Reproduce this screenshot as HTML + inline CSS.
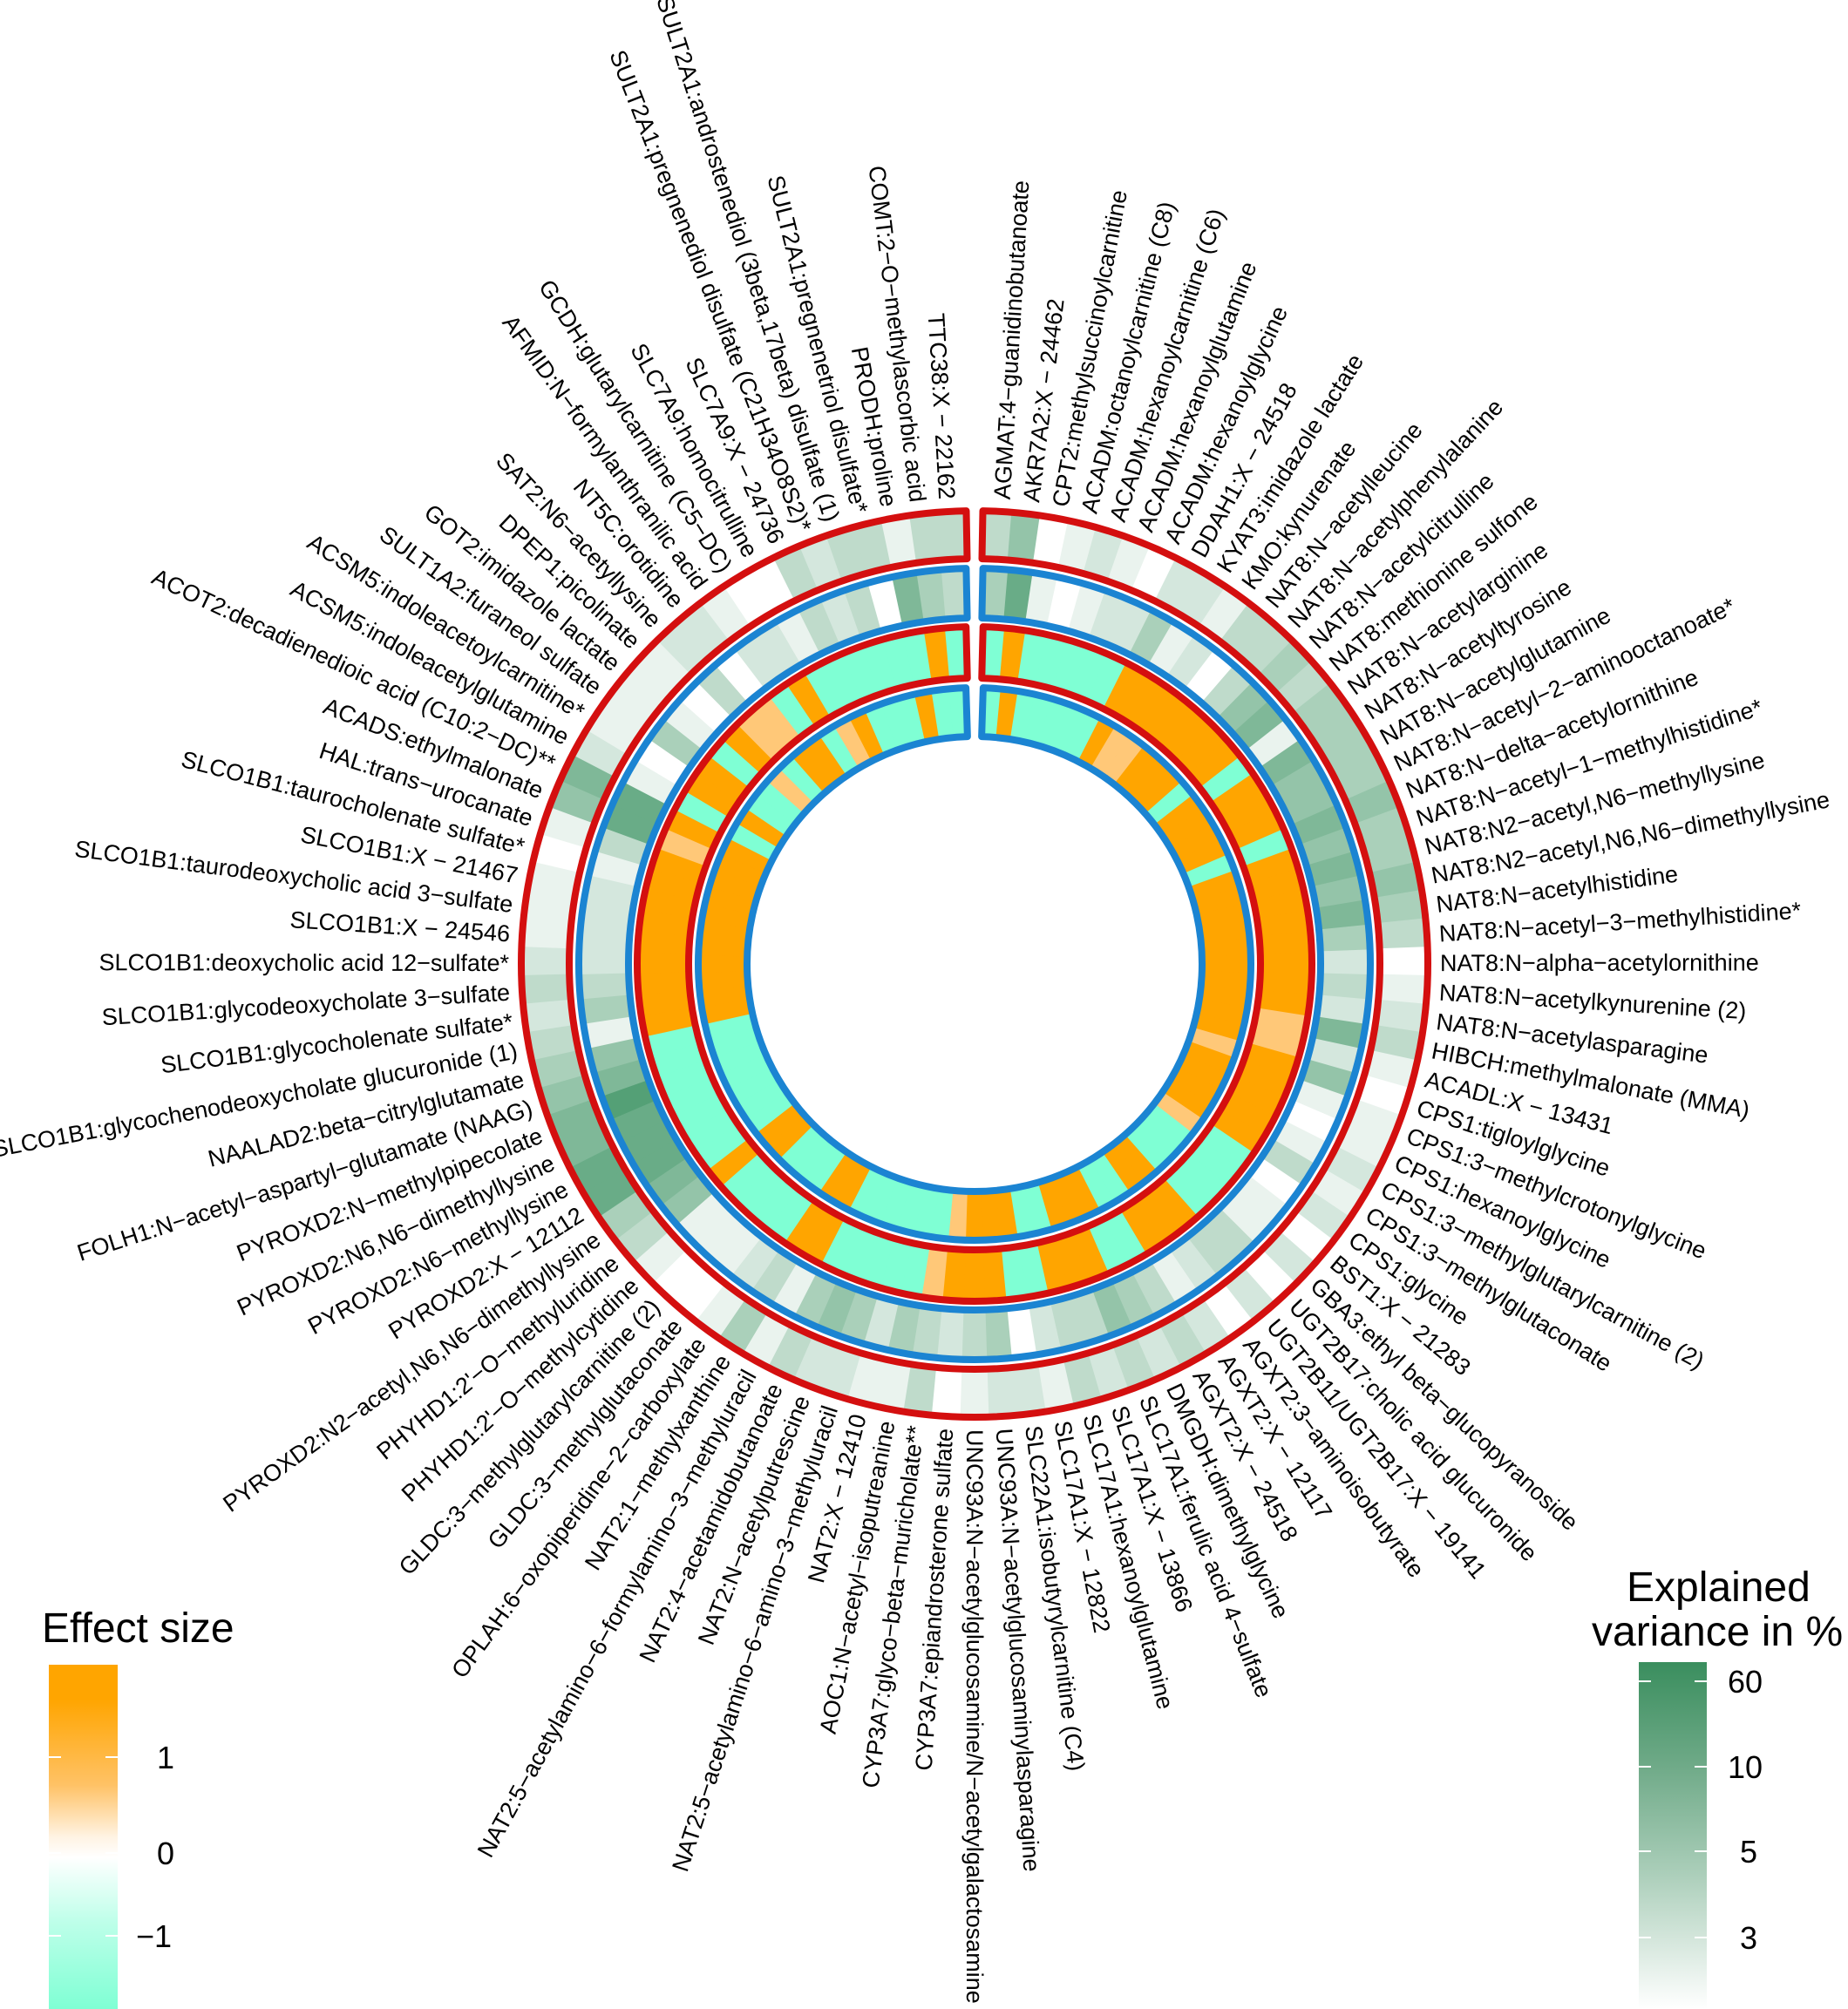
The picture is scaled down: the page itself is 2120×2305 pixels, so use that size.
<!DOCTYPE html>
<html><head><meta charset="utf-8">
<style>
html,body{margin:0;padding:0;background:#fff;}
svg{display:block;}
text{font-family:"Liberation Sans",Arial,sans-serif;fill:#000;}
</style></head>
<body>
<svg id="s" width="2120" height="2305" viewBox="0 0 2120 2305" xmlns="http://www.w3.org/2000/svg">
<defs>
<linearGradient id="ge" x1="0" y1="0" x2="0" y2="1">
<stop offset="0" stop-color="#FFA500"/>
<stop offset="0.1" stop-color="#FFA500"/>
<stop offset="0.35" stop-color="#FFC266"/>
<stop offset="0.5" stop-color="#FFF3E3"/>
<stop offset="0.56" stop-color="#FFFFFF"/>
<stop offset="0.75" stop-color="#BDFFE9"/>
<stop offset="1" stop-color="#7FFFD4"/>
</linearGradient>
<linearGradient id="gg" x1="0" y1="0" x2="0" y2="1">
<stop offset="0" stop-color="#3A8E5E"/>
<stop offset="0.3" stop-color="#6FAA88"/>
<stop offset="0.6" stop-color="#A9CDB8"/>
<stop offset="1" stop-color="#FFFFFF"/>
</linearGradient>
</defs>
<g id="cells"></g>
<g id="borders"></g>
<g id="labels" font-size="27">
<text>AGMAT:4−guanidinobutanoate</text>
<text>AKR7A2:X − 24462</text>
<text>CPT2:methylsuccinoylcarnitine</text>
<text>ACADM:octanoylcarnitine (C8)</text>
<text>ACADM:hexanoylcarnitine (C6)</text>
<text>ACADM:hexanoylglutamine</text>
<text>ACADM:hexanoylglycine</text>
<text>DDAH1:X − 24518</text>
<text>KYAT3:imidazole lactate</text>
<text>KMO:kynurenate</text>
<text>NAT8:N−acetylleucine</text>
<text>NAT8:N−acetylphenylalanine</text>
<text>NAT8:N−acetylcitrulline</text>
<text>NAT8:methionine sulfone</text>
<text>NAT8:N−acetylarginine</text>
<text>NAT8:N−acetyltyrosine</text>
<text>NAT8:N−acetylglutamine</text>
<text>NAT8:N−acetyl−2−aminooctanoate*</text>
<text>NAT8:N−delta−acetylornithine</text>
<text>NAT8:N−acetyl−1−methylhistidine*</text>
<text>NAT8:N2−acetyl,N6−methyllysine</text>
<text>NAT8:N2−acetyl,N6,N6−dimethyllysine</text>
<text>NAT8:N−acetylhistidine</text>
<text>NAT8:N−acetyl−3−methylhistidine*</text>
<text>NAT8:N−alpha−acetylornithine</text>
<text>NAT8:N−acetylkynurenine (2)</text>
<text>NAT8:N−acetylasparagine</text>
<text>HIBCH:methylmalonate (MMA)</text>
<text>ACADL:X − 13431</text>
<text>CPS1:tigloylglycine</text>
<text>CPS1:3−methylcrotonylglycine</text>
<text>CPS1:hexanoylglycine</text>
<text>CPS1:3−methylglutarylcarnitine (2)</text>
<text>CPS1:3−methylglutaconate</text>
<text>CPS1:glycine</text>
<text>BST1:X − 21283</text>
<text>GBA3:ethyl beta−glucopyranoside</text>
<text>UGT2B17:cholic acid glucuronide</text>
<text>UGT2B11/UGT2B17:X − 19141</text>
<text>AGXT2:3−aminoisobutyrate</text>
<text>AGXT2:X − 12117</text>
<text>AGXT2:X − 24518</text>
<text>DMGDH:dimethylglycine</text>
<text>SLC17A1:ferulic acid 4−sulfate</text>
<text>SLC17A1:X − 13866</text>
<text>SLC17A1:hexanoylglutamine</text>
<text>SLC17A1:X − 12822</text>
<text>SLC22A1:isobutyrylcarnitine (C4)</text>
<text>UNC93A:N−acetylglucosaminylasparagine</text>
<text>UNC93A:N−acetylglucosamine/N−acetylgalactosamine</text>
<text>CYP3A7:epiandrosterone sulfate</text>
<text>CYP3A7:glyco−beta−muricholate**</text>
<text>AOC1:N−acetyl−isoputreanine</text>
<text>NAT2:X − 12410</text>
<text>NAT2:5−acetylamino−6−amino−3−methyluracil</text>
<text>NAT2:N−acetylputrescine</text>
<text>NAT2:4−acetamidobutanoate</text>
<text>NAT2:5−acetylamino−6−formylamino−3−methyluracil</text>
<text>NAT2:1−methylxanthine</text>
<text>OPLAH:6−oxopiperidine−2−carboxylate</text>
<text>GLDC:3−methylglutaconate</text>
<text>GLDC:3−methylglutarylcarnitine (2)</text>
<text>PHYHD1:2'−O−methylcytidine</text>
<text>PHYHD1:2'−O−methyluridine</text>
<text>PYROXD2:N2−acetyl,N6,N6−dimethyllysine</text>
<text>PYROXD2:X − 12112</text>
<text>PYROXD2:N6−methyllysine</text>
<text>PYROXD2:N6,N6−dimethyllysine</text>
<text>PYROXD2:N−methylpipecolate</text>
<text>FOLH1:N−acetyl−aspartyl−glutamate (NAAG)</text>
<text>NAALAD2:beta−citrylglutamate</text>
<text>SLCO1B1:glycochenodeoxycholate glucuronide (1)</text>
<text>SLCO1B1:glycocholenate sulfate*</text>
<text>SLCO1B1:glycodeoxycholate 3−sulfate</text>
<text>SLCO1B1:deoxycholic acid 12−sulfate*</text>
<text>SLCO1B1:X − 24546</text>
<text>SLCO1B1:taurodeoxycholic acid 3−sulfate</text>
<text>SLCO1B1:X − 21467</text>
<text>SLCO1B1:taurocholenate sulfate*</text>
<text>HAL:trans−urocanate</text>
<text>ACADS:ethylmalonate</text>
<text>ACOT2:decadienedioic acid (C10:2−DC)**</text>
<text>ACSM5:indoleacetylglutamine</text>
<text>ACSM5:indoleacetoylcarnitine*</text>
<text>SULT1A2:furaneol sulfate</text>
<text>GOT2:imidazole lactate</text>
<text>DPEP1:picolinate</text>
<text>SAT2:N6−acetyllysine</text>
<text>NT5C:orotidine</text>
<text>AFMID:N−formylanthranilic acid</text>
<text>GCDH:glutarylcarnitine (C5−DC)</text>
<text>SLC7A9:homocitrulline</text>
<text>SLC7A9:X − 24736</text>
<text>SULT2A1:pregnenediol disulfate (C21H34O8S2)*</text>
<text>SULT2A1:androstenediol (3beta,17beta) disulfate (1)</text>
<text>SULT2A1:pregnenetriol disulfate*</text>
<text>PRODH:proline</text>
<text>COMT:2−O−methylascorbic acid</text>
<text>TTC38:X − 22162</text>
</g>
<!-- Effect size legend -->
<text x="48" y="1884" font-size="48">Effect size</text>
<rect x="56" y="1910" width="79" height="395" fill="url(#ge)"/>
<g stroke="#fff" stroke-width="2">
<line x1="56" y1="2016" x2="70" y2="2016"/><line x1="121" y1="2016" x2="135" y2="2016"/>
<line x1="56" y1="2126" x2="70" y2="2126"/><line x1="121" y1="2126" x2="135" y2="2126"/>
<line x1="56" y1="2221" x2="70" y2="2221"/><line x1="121" y1="2221" x2="135" y2="2221"/>
</g>
<text x="180" y="2029" font-size="36">1</text>
<text x="180" y="2139" font-size="36">0</text>
<text x="156" y="2234" font-size="36">−1</text>
<!-- Explained variance legend -->
<text x="1866" y="1837" font-size="48">Explained</text>
<text x="1826" y="1888" font-size="48">variance in %</text>
<rect x="1880" y="1907" width="78" height="398" fill="url(#gg)"/>
<g stroke="#fff" stroke-width="2">
<line x1="1880" y1="1929" x2="1894" y2="1929"/><line x1="1944" y1="1929" x2="1958" y2="1929"/>
<line x1="1880" y1="2027" x2="1894" y2="2027"/><line x1="1944" y1="2027" x2="1958" y2="2027"/>
<line x1="1880" y1="2124" x2="1894" y2="2124"/><line x1="1944" y1="2124" x2="1958" y2="2124"/>
<line x1="1880" y1="2223" x2="1894" y2="2223"/><line x1="1944" y1="2223" x2="1958" y2="2223"/>
</g>
<text x="1982" y="1942" font-size="36">60</text>
<text x="1982" y="2040" font-size="36">10</text>
<text x="1996" y="2137" font-size="36">5</text>
<text x="1996" y="2236" font-size="36">3</text>
</svg>
<script>
(function(){
var NS="http://www.w3.org/2000/svg";
var cx=1118, cy=1106, N=99;
var A0=1.6, A1=358.4, step=(A1-A0)/N;
function pt(r,a){var t=a*Math.PI/180;return [cx+r*Math.sin(t), cy-r*Math.cos(t)];}
function sector(r1,r2,a1,a2){
  var p1=pt(r2,a1),p2=pt(r2,a2),p3=pt(r1,a2),p4=pt(r1,a1);
  var lg=(a2-a1)>180?1:0;
  return "M"+p1[0].toFixed(2)+","+p1[1].toFixed(2)+" A"+r2+","+r2+" 0 "+lg+" 1 "+p2[0].toFixed(2)+","+p2[1].toFixed(2)+
   " L"+p3[0].toFixed(2)+","+p3[1].toFixed(2)+" A"+r1+","+r1+" 0 "+lg+" 0 "+p4[0].toFixed(2)+","+p4[1].toFixed(2)+" Z";
}
var e3=("coccccc ooo"+"oooocoooco"+"ooooooollo"+"oooocccc oo"+"occooocc oo"+"olccccc ooc"+"cccoccccc c"+"cooooooooo"+"locoocollco"+"cccccco cc").replace(/ /g,"");
var e4=("coccccc oll"+"ooocoooo co"+"ooooooooo l"+"ooool ccc oo"+"ccoooccooo"+"lccccccooc"+"ccoocccccc"+"cooooooooo"+"oococ clcoo"+"clocccocc").replace(/ /g,"");
var g1=[3,5,0,1,2,1,0,2,2,1, 3,3,4,3,4,4,4,4,5,4, 4,5,4,3,0,1,2,3,1,0, 1,1,2,1,2,0,2,0,2,0, 2,3,2,3,2,3,1,2,2,1, 0,3,1,1,2,2,3,1,4,1, 0,0,1,3,4,7,7,6,6,5, 4,3,2,3,2,1,1,1,0,1, 5,6,2,1,1,1,1,2,2,1, 0,0,3,2,3,3,1,3,3];
var g2=[4,7,1,0,1,2,2,4,1,2, 0,3,5,6,1,6,5,5,6,5, 6,5,6,4,2,3,2,6,2,5, 1,0,1,3,0,1,1,3,3,2, 1,3,4,5,3,3,2,0,4,3, 2,3,4,2,4,5,4,1,3,2, 1,1,1,5,6,7,7,7,8,6, 5,1,4,3,2,2,2,2,1,3, 7,7,1,0,4,1,0,3,0,2, 2,1,3,2,3,0,6,4,3];
var ec={o:"#FFA500",l:"#FFC878",c:"#7FFFD4"};
function gcol(v){var t=Math.min(1,v/9)*0.92;
  var r=Math.round(255+(46-255)*t),g=Math.round(255+(139-255)*t),b=Math.round(255+(87-255)*t);
  return "rgb("+r+","+g+","+b+")";}
var rings=[
 {ro:524,ri:461,col:"#D40F0F",f:function(i){return gcol(g1[i]);}},
 {ro:458,ri:393,col:"#1B84D2",f:function(i){return gcol(g2[i]);}},
 {ro:391,ri:324,col:"#D40F0F",f:function(i){return ec[e3[i]]||"#7FFFD4";}},
 {ro:321,ri:257,col:"#1B84D2",f:function(i){return ec[e4[i]]||"#7FFFD4";}}
];
var cg=document.getElementById("cells"), bg=document.getElementById("borders");
rings.forEach(function(R){
  var rm=(R.ro+R.ri)/2;
  var half=9/rm*180/Math.PI;
  var a0=half, a1=360-half, st=(a1-a0)/N;
  var r1=R.ri+4, r2=R.ro-4;
  for(var i=0;i<N;i++){
    var p=document.createElementNS(NS,"path");
    p.setAttribute("d",sector(r1,r2,a0+i*st,a0+(i+1)*st+0.15));
    p.setAttribute("fill",R.f(i));
    cg.appendChild(p);
  }
  var b=document.createElementNS(NS,"path");
  b.setAttribute("d",sector(r1,r2,a0,a1));
  b.setAttribute("fill","none");b.setAttribute("stroke",R.col);b.setAttribute("stroke-width","8");
  b.setAttribute("stroke-linejoin","round");
  bg.appendChild(b);
});
var labs=document.getElementById("labels").children;
for(var i=0;i<labs.length;i++){
  var a=A0+(i+0.5)*step;
  var p=pt(534,a);
  var t=labs[i];
  t.setAttribute("x",p[0].toFixed(1));t.setAttribute("y",p[1].toFixed(1));
  t.setAttribute("dominant-baseline","central");
  if(a<180){t.setAttribute("text-anchor","start");
    t.setAttribute("transform","rotate("+(a-90).toFixed(2)+" "+p[0].toFixed(1)+" "+p[1].toFixed(1)+")");}
  else{t.setAttribute("text-anchor","end");
    t.setAttribute("transform","rotate("+(a+90).toFixed(2)+" "+p[0].toFixed(1)+" "+p[1].toFixed(1)+")");}
}
})();
</script>
</body></html>
